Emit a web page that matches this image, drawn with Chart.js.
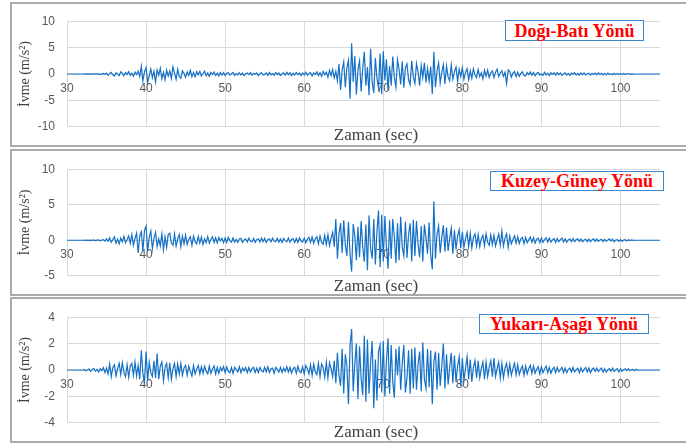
<!DOCTYPE html>
<html><head><meta charset="utf-8">
<script src="https://cdn.jsdelivr.net/npm/chart.js@4.4.1/dist/chart.umd.min.js"></script>
<style>
html,body{margin:0;padding:0;background:#fff;width:686px;height:445px;overflow:hidden;position:relative}
.panel{position:absolute;left:10px;width:690px;box-sizing:border-box;border:2px solid #ababab;background:#fff}
canvas{position:absolute;left:10px}
.tag{position:absolute;box-sizing:border-box;border:1px solid #3a87cf;background:#fff;color:#ff0000;font:bold 18px "Liberation Serif",serif;display:flex;align-items:center;justify-content:center;white-space:nowrap;line-height:18px}
</style></head><body>
<div class="panel" style="top:2px;height:145px"></div>
<div class="panel" style="top:149px;height:147px"></div>
<div class="panel" style="top:297px;height:146px"></div>
<canvas id="c1" width="732" height="144" style="top:2px"></canvas>
<canvas id="c2" width="732" height="145" style="top:150px"></canvas>
<canvas id="c3" width="732" height="144" style="top:298px"></canvas>
<div class="tag" style="left:505px;top:20px;width:139px;height:21px">Doğı-Batı Yönü</div>
<div class="tag" style="left:490px;top:171px;width:174px;height:20px">Kuzey-Güney Yönü</div>
<div class="tag" style="left:479px;top:314px;width:170px;height:20px">Yukarı-Aşağı Yönü</div>
<script>
// sampling: first sample at T0 seconds, one every DT seconds (5 per row = 1 s)
const T0 = 30, DT = 0.2;
const X_MIN = 30, X_MAX = 105, X_STEP = 10;
const X_TITLE = 'Zaman (sec)';
const Y_TITLE = 'İvme (m/s²)';

// Doğı-Batı (East-West) acceleration, m/s²
const ewValues = [
 0,0,0,0,0, 0,0,0,0,0, 0,0.01,-0.01,0.02,-0.01, 0.03,-0.02,0.05,0.01,-0.04, 0.06,-0.09,0.02,0.11,-0.07,
 0.18,-0.25,0.1,0.32,-0.15, -0.38,0.22,0.05,-0.3,0.41, 0.12,-0.35,0.28,-0.08,0.44, -0.26,0.15,-0.42,0.36,-0.1, 0.55,-0.48,1.5,-1.3,0.4,
 1.2,-1.6,-0.3,0.95,-0.7, 0.5,-1.5,0.8,-0.2,1.1, -0.9,0.3,-1.1,0.75,-0.4, 0.6,-0.85,1.35,0.2,-1.0, 0.9,-0.45,-0.8,0.6,0.15,
 -0.65,0.4,-0.25,0.7,-0.5, 0.3,-0.55,0.45,-0.15,0.5, -0.4,0.1,0.55,-0.35,0.2, -0.45,0.3,-0.1,0.38,-0.3, 0.15,-0.35,0.3,-0.2,0.25,
 -0.3,0.12,0.28,-0.22,0.05, 0.3,-0.26,0.1,-0.15,0.24, -0.2,0.18,-0.28,0.06,0.2, -0.12,0.27,-0.24,0.15,-0.05, 0.22,-0.3,0.1,0.25,-0.18,
 -0.08,0.2,-0.26,0.3,-0.15, 0.1,-0.22,0.28,-0.12,0.18, -0.27,0.05,0.24,-0.2,0.3, -0.1,0.22,-0.3,0.14,-0.2, 0.28,-0.12,0.18,-0.3,0.2,
 -0.18,0.32,-0.25,0.08,0.28, -0.35,0.2,-0.1,0.4,-0.3, 0.25,-0.45,0.5,-0.15,0.35, -0.6,0.7,-0.3,0.85,-0.75, 0.5,-1.3,1.9,-3.0,0.8,
 2.3,-2.5,1.2,2.6,-4.7, 5.8,-1.5,3.4,-3.9,0.9, 2.5,-3.3,1.0,4.2,-2.2, 1.3,-4.0,4.8,-1.6,-3.6, 3.0,-0.8,-2.6,3.9,-3.8,
 4.3,-1.2,2.8,-3.1,1.5, -2.2,3.3,-0.6,-2.5,2.7, 0.9,-2.0,2.4,-2.6,1.2, 1.9,-1.1,-2.0,2.5,-0.5, -1.8,2.0,0.4,-2.2,1.6,
 -0.7,2.1,-1.6,1.0,-1.4, 1.4,-3.8,4.2,-2.5,0.6, 2.1,-1.7,0.3,1.8,-1.9, 1.5,-0.6,-1.3,1.7,-1.0, 0.4,1.3,-1.4,0.9,-0.5,
 1.2,-1.0,0.3,1.0,-1.1, 0.6,-0.8,1.0,-0.2,-0.7, 0.85,-0.5,0.2,-0.9,0.7, -0.4,0.75,-0.65,0.2,0.6, -0.7,0.35,0.9,-0.5,0.2,
 0.6,-0.45,0.3,-1.8,0.75, 0.5,-0.6,0.15,0.45,-0.5, 0.35,-0.45,0.1,0.42,-0.3, -0.38,0.3,-0.12,0.36,-0.25, 0.28,-0.35,0.1,0.3,-0.22,
 0.05,-0.28,0.32,-0.2,0.15, -0.3,0.22,-0.08,0.25,-0.2, 0.28,-0.15,0.2,-0.25,0.05, 0.22,-0.2,0.12,-0.25,0.18, -0.05,0.24,-0.2,0.1,-0.22,
 0.2,-0.12,0.22,-0.18,0.05, 0.15,-0.2,0.12,-0.08,0.18, -0.15,0.2,-0.05,0.14,-0.18, 0.12,-0.16,0.18,-0.1,0.06, -0.14,0.15,-0.1,0.12,-0.08,
 0.1,-0.12,0.08,-0.1,0.05, 0.06,-0.05,0.03,-0.02,0, 0,0,0,0,0, 0,0,0,0,0, 0,0,0,0,0,
 0
];

// Kuzey-Güney (North-South) acceleration, m/s²
const nsValues = [
 0,0,0,0,0, 0,0,0,0,0, 0,0.01,-0.01,0.02,-0.02, 0.03,-0.02,0.04,-0.05,0.02, 0.06,-0.08,0.03,0.1,-0.12,
 0.2,-0.15,0.35,-0.3,0.1, 0.48,-0.4,0.15,-0.5,0.3, -0.2,0.55,-0.35,0.1,0.6, -0.45,0.8,-0.7,0.25,1.0, -1.8,0.6,1.2,-1.5,1.4,
 2.0,-1.6,0.4,1.3,-1.2, 0.3,1.1,-0.9,0.2,-0.8, 0.9,-1.3,0.5,-1.0,0.8, 1.0,-0.4,-0.7,0.9,-0.8, 0.2,0.8,-0.9,0.6,-0.5,
 0.7,-0.6,0.1,0.5,-0.7, 0.6,-0.2,-0.5,0.55,-0.4, 0.45,-0.6,0.2,-0.35,0.5, -0.4,0.1,0.5,-0.3,0.35, -0.38,0.4,-0.1,0.3,-0.35,
 0.3,-0.32,0.4,-0.05,-0.28, 0.32,-0.25,0.12,-0.3,0.22, 0.25,-0.3,0.05,0.2,-0.25, 0.3,-0.15,-0.2,0.26,-0.3, 0.12,0.2,-0.26,0.3,-0.18,
 0.25,-0.3,0.08,0.2,-0.22, 0.3,-0.1,-0.2,0.25,-0.26, 0.18,-0.3,0.26,-0.05,-0.22, 0.3,-0.25,0.1,0.22,-0.3, 0.26,-0.32,0.35,-0.1,-0.25,
 0.3,-0.36,0.12,0.4,-0.3, 0.46,-0.42,0.2,0.5,-0.5, 0.6,-0.3,-0.55,0.7,-0.6, 0.8,-0.75,0.3,1.1,-0.9, 3.0,-2.6,0.9,2.4,-1.8,
 2.8,-0.7,-2.2,2.6,-2.0, -4.4,2.3,0.6,-2.8,1.9, -2.4,2.7,-0.9,-3.0,2.2, -4.2,3.5,-1.2,-2.6,3.0, -3.4,1.2,4.2,-3.8,3.6,
 -3.0,3.4,-0.8,-4.0,2.8, -2.6,3.0,0.5,-3.2,2.4, -2.8,3.3,-1.0,-2.2,2.6, -2.5,0.8,2.4,-3.0,2.9, -2.2,2.7,-0.6,-2.4,2.0,
 -3.0,2.2,0.4,-1.9,2.5, -2.1,-4.1,5.5,-2.6,0.8, 2.0,-1.8,0.5,2.1,-1.6, 1.8,-1.5,0.3,1.7,-1.9, 1.4,-1.3,0.6,1.5,-1.1,
 1.2,-1.0,0.2,1.1,-0.9, 1.0,-1.1,0.4,0.9,-0.8, 0.8,-0.9,0.2,0.7,-0.8, 0.9,-0.3,-0.7,0.8,-0.6, 0.7,-0.8,0.1,0.9,-0.7,
 1.3,-0.8,0.3,0.9,-1.0, 0.6,-0.5,0.1,0.6,-0.4, 0.5,-0.45,0.2,0.4,-0.5, 0.4,-0.35,0.05,0.45,-0.3, 0.35,-0.4,0.15,0.3,-0.35,
 0.3,-0.3,0.1,0.35,-0.25, 0.3,-0.25,0.05,0.25,-0.3, 0.25,-0.2,0.1,0.3,-0.25, 0.2,-0.25,0.05,0.2,-0.2, 0.25,-0.2,0.1,0.2,-0.15,
 0.2,-0.2,0.05,0.15,-0.2, 0.15,-0.2,0.08,0.2,-0.15, 0.2,-0.15,0.03,0.15,-0.2, 0.15,-0.15,0.05,0.2,-0.1, 0.15,-0.2,0.04,0.1,-0.15,
 0.1,-0.15,0.03,0.1,-0.1, 0.08,-0.05,0.04,-0.02,0, 0,0,0,0,0, 0,0,0,0,0, 0,0,0,0,0,
 0
];

// Yukarı-Aşağı (Up-Down) acceleration, m/s²
const udValues = [
 0,0,0,0,0, 0,0,0,0,0, 0,0.04,-0.05,0.02,0.07, -0.1,0.06,0.12,-0.08,0.05, -0.15,0.1,-0.05,0.18,-0.2,
 0.15,-0.3,0.45,-0.5,0.2, 0.4,-0.45,0.1,0.5,-0.35, 0.55,-0.2,-0.5,0.4,-0.55, 0.3,0.5,-0.4,0.6,-0.45, 0.35,-0.7,1.5,-0.3,-0.9,
 1.4,-0.8,0.6,-0.2,-0.5, 0.7,-0.6,1.25,-0.7,0.3, 0.6,-0.8,0.2,0.5,-0.6, 0.55,-0.7,0.1,0.5,-0.5, 0.45,-0.3,0.5,-0.4,0.15,
 0.35,-0.4,0.3,-0.1,-0.45, 0.35,-0.3,0.05,0.35,-0.3, 0.25,-0.25,0.3,-0.1,-0.3, 0.3,-0.25,0.08,0.3,-0.3, 0.2,-0.25,0.2,-0.05,0.25,
 -0.2,0.25,-0.1,-0.2,0.2, -0.25,0.2,0.05,-0.15,0.25, -0.2,0.15,-0.05,0.2,-0.2, 0.2,-0.15,0.1,0.2,-0.2, 0.15,-0.2,0.2,-0.05,-0.15,
 0.2,-0.15,0.25,-0.2,0.1, 0.15,-0.25,0.2,0.05,-0.15, 0.2,-0.2,0.15,-0.1,0.25, -0.15,0.2,-0.25,0.1,0.2, -0.25,0.3,-0.1,-0.2,0.25,
 -0.3,0.35,0.1,-0.3,0.4, -0.4,0.45,-0.15,-0.35,0.5, -0.5,0.45,0.2,-0.55,0.6, -0.6,0.55,0.1,-0.5,0.7, -1.0,1.3,-0.4,-1.2,1.6,
 -1.8,1.2,0.3,-2.6,1.9, 3.1,-1.6,0.5,2.0,-2.2, 1.8,-0.6,-1.9,2.6,-2.4, 2.3,-1.8,0.6,2.2,-2.9, 0.8,-2.3,1.4,1.9,-1.7,
 2.2,-2.0,0.7,2.4,-1.8, 1.9,-0.9,-2.1,1.6,-0.4, 1.8,-1.5,0.5,1.9,-1.7, -0.6,1.5,-1.8,1.6,-1.4, 1.7,-1.5,0.4,1.4,-1.6,
 2.1,-0.7,-1.4,1.6,-1.3, 1.5,-2.6,0.6,1.4,-1.5, 1.3,-1.2,0.3,2.0,-1.4, 1.2,-1.1,0.2,1.3,-1.0, 1.1,-0.9,0.3,1.0,-1.2,
 0.9,-0.8,0.1,1.0,-0.7, 0.8,-0.9,0.2,0.7,-0.6, 0.7,-0.6,0.1,0.6,-0.7, 0.6,-0.5,0.2,0.7,-0.5, 0.9,-0.5,0.1,0.6,-0.6,
 0.5,-0.6,0.15,0.5,-0.4, 0.45,-0.4,0.1,0.5,-0.35, 0.4,-0.35,0.05,0.3,-0.4, 0.3,-0.3,0.1,0.35,-0.25, 0.3,-0.25,0.05,0.25,-0.3,
 0.25,-0.2,0.08,0.3,-0.2, 0.2,-0.25,0.05,0.2,-0.2, 0.2,-0.15,0.04,0.2,-0.2, 0.15,-0.2,0.05,0.15,-0.15, 0.2,-0.15,0.03,0.15,-0.2,
 0.15,-0.15,0.05,0.2,-0.15, 0.15,-0.2,0.04,0.15,-0.1, 0.15,-0.1,0.03,0.15,-0.15, 0.1,-0.15,0.02,0.1,-0.1, 0.15,-0.1,0.03,0.1,-0.15,
 0.1,-0.1,0.02,0.1,-0.05, 0.1,-0.05,0.03,0.05,-0.05, 0.05,-0.02,0,0,0, 0,0,0,0,0, 0,0,0,0,0,
 0
];

// y-axis ranges [min, max, step] per panel
const ewRange = [-10, 10, 5];
const nsRange = [-5, 10, 5];
const udRange = [-4, 4, 2];

const LINE = '#1470c6', GRID = '#d9d9d9', TICK = '#595959', TITLE_C = '#404040';

function makeChart(id, values, range, padTop, xAxisH, titleBottomPad) {
  const pts = values.map((v, i) => ({x: T0 + i * DT, y: v}));
  const tickFont = {family: 'Liberation Sans', size: 12};
  return new Chart(document.getElementById(id), {
    type: 'line',
    data: {datasets: [{data: pts, xAxisID: 'x', yAxisID: 'y', borderColor: LINE, borderWidth: 1.2,
      pointRadius: 0, pointHoverRadius: 0, tension: 0, fill: false}]},
    options: {
      responsive: false, animation: false, devicePixelRatio: 1, events: [],
      layout: {padding: {left: 0, right: 0, top: padTop, bottom: 0}},
      plugins: {
        legend: {display: false}, tooltip: {enabled: false},
        title: {display: true, text: X_TITLE, position: 'bottom', fullSize: true, align: 'center',
          color: TITLE_C, font: {family: 'Liberation Serif', size: 17, lineHeight: 1, weight: 'normal'},
          padding: {top: 0, bottom: titleBottomPad}}
      },
      scales: {
        x: {type: 'linear', axis: 'x', position: 'bottom', min: X_MIN, max: X_MAX,
          grid: {color: GRID, drawTicks: false}, border: {display: false},
          ticks: {display: false, stepSize: X_STEP, includeBounds: false},
          afterFit: s => { s.height = xAxisH; }},
        xz: {type: 'linear', axis: 'x', position: {y: 0}, min: X_MIN, max: X_MAX,
          grid: {display: false, drawTicks: false}, border: {display: false},
          ticks: {stepSize: X_STEP, includeBounds: false, padding: 7, color: TICK, font: tickFont,
            maxRotation: 0, autoSkip: false}},
        y: {type: 'linear', axis: 'y', position: 'left', min: range[0], max: range[1],
          grid: {color: GRID, drawTicks: false}, border: {display: false},
          ticks: {stepSize: range[2], padding: 12, color: TICK, font: tickFont},
          title: {display: true, text: Y_TITLE, color: TITLE_C,
            font: {family: 'Liberation Serif', size: 14}, padding: {top: 6.6, bottom: 0}},
          afterFit: s => { s.width = 57; }},
        yr: {type: 'linear', axis: 'y', position: 'right', min: range[0], max: range[1],
          grid: {display: false, drawTicks: false}, border: {display: false},
          ticks: {display: false},
          afterFit: s => { s.width = 82; }}
      }
    }
  });
}

makeChart('c1', ewValues, ewRange, 14, 0.5, 1);
makeChart('c2', nsValues, nsRange, 14, 2, 0);
makeChart('c3', udValues, udRange, 12.7, 1.5, 0.5);
</script>
</body></html>
